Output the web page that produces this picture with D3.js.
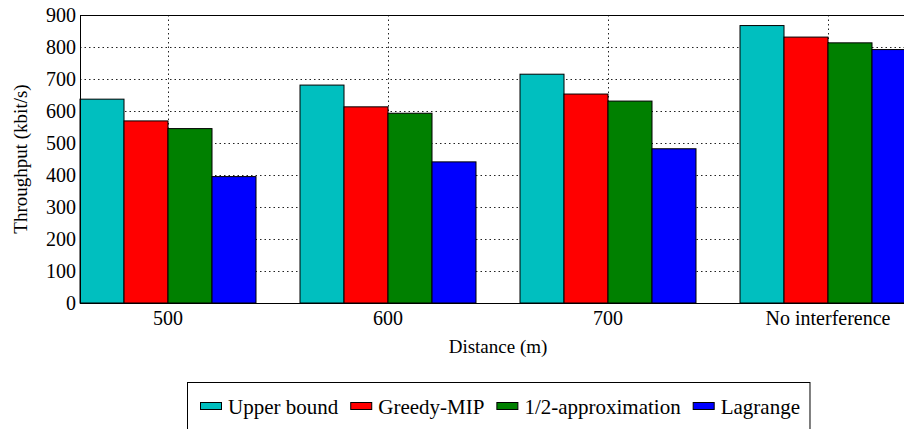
<!DOCTYPE html>
<html>
<head>
<meta charset="utf-8">
<script src="https://cdn.jsdelivr.net/npm/d3@7"></script>
<style>
  html, body { margin: 0; padding: 0; background: #fff; overflow: hidden; }
  svg { display: block; }
  svg text { font-family: "Liberation Serif", "Times New Roman", Times, "Nimbus Roman", "DejaVu Serif", serif !important; fill: #000; }
</style>
</head>
<body>
<svg id="chart" width="904" height="429"></svg>
<script>
const categories = ["500", "600", "700", "No interference"];
const seriesNames = ["Upper bound", "Greedy-MIP", "1/2-approximation", "Lagrange"];
const seriesColors = ["#00bfbf", "#ff0000", "#008000", "#0000ff"];
const upperBound = [637, 681, 715, 867];
const greedyMIP = [569, 613, 653, 831];
const halfApprox = [545, 593, 631, 813];
const lagrange = [395, 441, 482, 792];
const yTicks = [0, 100, 200, 300, 400, 500, 600, 700, 800, 900];
const xLabel = "Distance (m)";
const yLabel = "Throughput (kbit/s)";

const seriesValues = [upperBound, greedyMIP, halfApprox, lagrange];

const svg = d3.select("#chart");
const pLeft = 80, pRight = 916, pTop = 15, pBottom = 303;

const x0 = d3.scaleBand().domain(categories).range([pLeft, pRight]).paddingInner(0.2).paddingOuter(0);
const x1 = d3.scaleBand().domain(seriesNames).range([0, x0.bandwidth()]).padding(0);
const y = d3.scaleLinear().domain([0, 900]).range([pBottom, pTop]);

// grid
const grid = svg.append("g");
grid.selectAll("line.h").data(yTicks.filter(t => t > 0 && t < 900)).join("line")
  .attr("x1", pLeft).attr("x2", pRight)
  .attr("y1", d => y(d) + 0.5).attr("y2", d => y(d) + 0.5)
  .attr("stroke", "#222").attr("stroke-width", 1).attr("stroke-dasharray", "1.5,3");
grid.selectAll("line.v").data(categories).join("line")
  .attr("x1", d => x0(d) + x0.bandwidth() / 2 + 0.5).attr("x2", d => x0(d) + x0.bandwidth() / 2 + 0.5)
  .attr("y1", pTop).attr("y2", pBottom)
  .attr("stroke", "#222").attr("stroke-width", 1).attr("stroke-dasharray", "1.5,3");

// bars
const rows = [];
categories.forEach((c, i) => {
  seriesNames.forEach((s, j) => rows.push({ c, s, v: seriesValues[j][i], color: seriesColors[j] }));
});
svg.append("g").selectAll("rect").data(rows).join("rect")
  .attr("x", d => x0(d.c) + x1(d.s))
  .attr("y", d => y(d.v))
  .attr("width", x1.bandwidth())
  .attr("height", d => y(0) - y(d.v))
  .attr("fill", d => d.color)
  .attr("stroke", "#000").attr("stroke-width", 1);

// frame
svg.append("line").attr("x1", pLeft).attr("x2", pRight).attr("y1", pTop + 0.5).attr("y2", pTop + 0.5).attr("stroke", "#000");
svg.append("line").attr("x1", pLeft).attr("x2", pRight).attr("y1", pBottom + 0.5).attr("y2", pBottom + 0.5).attr("stroke", "#000");
svg.append("line").attr("x1", pLeft + 0.5).attr("x2", pLeft + 0.5).attr("y1", pTop).attr("y2", pBottom + 1).attr("stroke", "#000");

// y axis
const yAxis = d3.axisLeft(y).tickValues(yTicks).tickSize(0).tickPadding(4);
const gy = svg.append("g").attr("transform", `translate(${pLeft},0)`).call(yAxis)
  .attr("font-family", null);
gy.select(".domain").remove();
gy.selectAll("text").attr("font-size", 20).attr("fill", "#000");

// x axis
const xAxis = d3.axisBottom(x0).tickSize(0).tickPadding(8);
const gx = svg.append("g").attr("transform", `translate(0,${pBottom})`).call(xAxis)
  .attr("font-family", null);
gx.select(".domain").remove();
gx.selectAll("text").attr("font-size", 20).attr("fill", "#000");

// axis labels
svg.append("text").attr("x", (pLeft + pRight) / 2).attr("y", 353)
  .attr("text-anchor", "middle").attr("font-size", 19).text(xLabel);
svg.append("text").attr("transform", `translate(27,${(pTop + pBottom) / 2}) rotate(-90)`)
  .attr("text-anchor", "middle").attr("font-size", 19).text(yLabel);

// legend
const lg = svg.append("g");
const box = lg.append("rect").attr("x", 187.5).attr("y", 382.5).attr("height", 60)
  .attr("fill", "#fff").attr("stroke", "#000").attr("stroke-width", 1);
let cx = 200;
seriesNames.forEach((s, j) => {
  lg.append("rect").attr("x", cx + 0.5).attr("y", 402.5).attr("width", 21).attr("height", 7)
    .attr("fill", seriesColors[j]).attr("stroke", "#000").attr("stroke-width", 1);
  const t = lg.append("text").attr("x", cx + 28).attr("y", 414).attr("font-size", 21).text(s);
  const w = t.node().getComputedTextLength();
  cx = cx + 28 + w + 12;
});
box.attr("width", cx - 12 + 10 - 187.5);
</script>
</body>
</html>
